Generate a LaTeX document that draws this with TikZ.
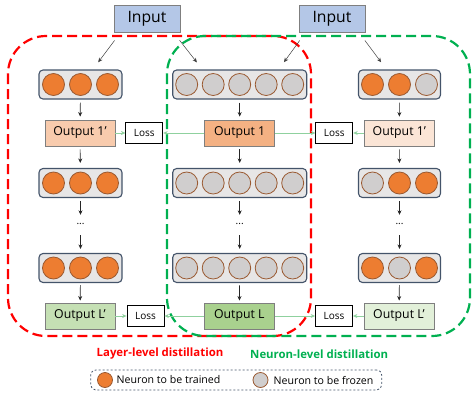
\documentclass[tikz,border=0pt]{standalone}
\usepackage{fontspec}
\setmainfont{Open Sans}
\usetikzlibrary{arrows.meta,calc}
\definecolor{inblue}{HTML}{B4C7E7}
\definecolor{boxgray}{HTML}{E7E6E6}
\definecolor{boxblue}{HTML}{44546A}
\definecolor{norange}{HTML}{ED7D31}
\definecolor{ngray}{HTML}{D0CECE}
\definecolor{nbrown}{HTML}{9A5A32}
\definecolor{outgray}{HTML}{7F7F7F}
\definecolor{oaL}{HTML}{F8CBAD}
\definecolor{oaM}{HTML}{F4B183}
\definecolor{oaR}{HTML}{FBE5D6}
\definecolor{obL}{HTML}{C5E0B4}
\definecolor{obM}{HTML}{A9D18E}
\definecolor{obR}{HTML}{E2F0D9}
\definecolor{lossgreen}{HTML}{8FD19E}
\definecolor{dred}{HTML}{FF0000}
\definecolor{dgreen}{HTML}{00B050}
\newcommand{\sq}{{\char"0027}}
\tikzset{
 layerbox/.style={draw=boxblue, fill=boxgray, rounded corners=4pt, line width=1.1pt, minimum height=29pt, inner sep=0pt},
 neuron/.style={circle, draw=nbrown, line width=0.8pt, minimum size=22pt, inner sep=0pt},
 trn/.style={neuron, fill=norange},
 frz/.style={neuron, fill=ngray},
 outbox/.style={draw=outgray, line width=0.9pt, minimum width=70pt, minimum height=26pt, inner sep=0pt, font=\fontsize{12.3}{14}\selectfont},
 lossbox/.style={draw=black, fill=white, line width=0.8pt, minimum width=37pt, minimum height=21pt, inner sep=0pt, font=\fontsize{10}{12}\selectfont},
 inbox/.style={draw=outgray, fill=inblue, line width=0.9pt, minimum width=66pt, minimum height=27pt, inner sep=0pt, font=\fontsize{15.7}{18}\selectfont},
 dotsnode/.style={minimum height=20pt, inner sep=0pt, font=\fontsize{10}{12}\selectfont},
 arr/.style={-{Stealth[length=4.5pt,width=4pt]}, line width=0.6pt, draw=black!85, shorten <=3pt, shorten >=3pt},
 garr/.style={-{Stealth[length=4.5pt,width=4pt]}, line width=0.7pt, draw=lossgreen},
 inarr/.style={-{Stealth[length=4.5pt,width=4pt]}, line width=0.5pt, draw=black!75, shorten <=10pt, shorten >=9pt},
 reddash/.style={draw=dred, line width=2.2pt, dash pattern=on 10pt off 5pt, rounded corners=38pt},
 greendash/.style={draw=dgreen, line width=2.2pt, dash pattern=on 10pt off 5pt, rounded corners=38pt},
 title/.style={font=\fontsize{11.4}{13}\selectfont\bfseries},
 legendbox/.style={draw=boxblue, line width=0.8pt, dash pattern=on 2pt off 2pt, rounded corners=5pt, minimum width=291pt, minimum height=20pt, inner sep=0pt},
 legtext/.style={anchor=west, inner sep=1pt, font=\fontsize{10.6}{12}\selectfont},
 legdot/.style={circle, draw=nbrown, line width=0.8pt, minimum size=15pt, inner sep=0pt},
}
\begin{document}
\begin{tikzpicture}[x=1pt,y=-1pt]
\useasboundingbox (0,0) rectangle (472,397);
% dashed regions
\draw[reddash] (8,36) rectangle (311,336);
\draw[greendash] (167,36) rectangle (470,336);
% inputs
\node[inbox] (in1) at (147,18.5) {Input};
\node[inbox] (in2) at (332,18.5) {Input};
% layer boxes
\node[layerbox, minimum width=83pt] (aL) at (80.5,84.5) {};
\node[layerbox, minimum width=134pt] (aM) at (239.7,84.5) {};
\node[layerbox, minimum width=82pt] (aR) at (399.5,84.5) {};
\node[layerbox, minimum width=83pt] (bL) at (80.5,183) {};
\node[layerbox, minimum width=134pt] (bM) at (239.7,183) {};
\node[layerbox, minimum width=82pt] (bR) at (399.5,183) {};
\node[layerbox, minimum width=83pt] (cL) at (80.5,268) {};
\node[layerbox, minimum width=134pt] (cM) at (239.7,268) {};
\node[layerbox, minimum width=82pt] (cR) at (399.5,268) {};
% neurons
\foreach \b in {aL,bL,cL} {
  \foreach \dx in {-27,0,27} \node[trn] at ($(\b)+(\dx,0)$) {};
}
\foreach \b in {aM,bM,cM} {
  \foreach \dx in {-53,-26.5,0,26.5,53} \node[frz] at ($(\b)+(\dx,0)$) {};
}
\foreach \dx/\s in {-27/trn,0/trn,27/frz} \node[\s] at ($(aR)+(\dx,0)$) {};
\foreach \dx/\s in {-27/frz,0/trn,27/trn} \node[\s] at ($(bR)+(\dx,0)$) {};
\foreach \dx/\s in {-27/trn,0/frz,27/trn} \node[\s] at ($(cR)+(\dx,0)$) {};
% outputs
\node[outbox, fill=oaL] (o1L) at (80,133) {Output 1\sq};
\node[outbox, fill=oaM] (o1M) at (239.7,133) {Output 1};
\node[outbox, fill=oaR] (o1R) at (399.3,133) {Output 1\sq};
\node[outbox, fill=obL] (oLL) at (80,316) {Output L\sq};
\node[outbox, fill=obM] (oLM) at (239.3,316) {Output L};
\node[outbox, fill=obR] (oLR) at (399,316) {Output L’};
% losses
\node[lossbox] (l1a) at (144.3,133) {Loss};
\node[lossbox] (l1b) at (334.3,133) {Loss};
\node[lossbox] (lLa) at (145.5,316) {Loss};
\node[lossbox] (lLb) at (334,316) {Loss};
% dots
\node[dotsnode] (dL) at (80.5,225) {···};
\node[dotsnode] (dM) at (239.7,225) {···};
\node[dotsnode] (dR) at (399.5,225) {···};
% input arrows
\draw[inarr] ([xshift=7pt]in1.south west) -- ([xshift=12.3pt]aL.north);
\draw[inarr] ([xshift=-7pt]in1.south east) -- ([xshift=-37.3pt]aM.north);
\draw[inarr] ([xshift=7pt]in2.south west) -- ([xshift=39pt]aM.north);
\draw[inarr] ([xshift=-6.5pt]in2.south east) -- ([xshift=-13pt]aR.north);
% vertical arrows
\foreach \c in {L,M,R} {
  \draw[arr] (a\c) -- (o1\c);
  \draw[arr, shorten >=5pt] (o1\c) -- (b\c);
  \draw[arr, shorten >=0pt] (b\c) -- (d\c);
  \draw[arr, shorten <=0pt, shorten >=4pt] (d\c) -- (c\c);
  \draw[arr, shorten <=2pt, shorten >=2pt] (c\c) -- (oL\c);
}
% loss arrows
\draw[garr] (o1L) -- (l1a);
\draw[garr] (o1M) -- (l1a);
\draw[garr] (o1M) -- (l1b);
\draw[garr] (o1R) -- (l1b);
\draw[garr] (oLL) -- (lLa);
\draw[garr] (oLM) -- (lLa);
\draw[garr] (oLM) -- (lLb);
\draw[garr] (oLR) -- (lLb);
% titles
\node[title, text=dred] (t1) at (160,354) {Layer-level distillation};
\node[title, text=dgreen] (t2) at (319.2,354) {Neuron-level distillation};
% legend
\node[legendbox] (leg) at (236.2,380) {};
\node[legdot, fill=norange] (lg1) at (105,380) {};
\node[legtext] (lt1) at (115.5,380) {Neuron to be trained};
\node[legdot, fill=ngray] (lg2) at (260.5,380) {};
\node[legtext] (lt2) at (272.5,380) {Neuron to be frozen};
\end{tikzpicture}
\end{document}
